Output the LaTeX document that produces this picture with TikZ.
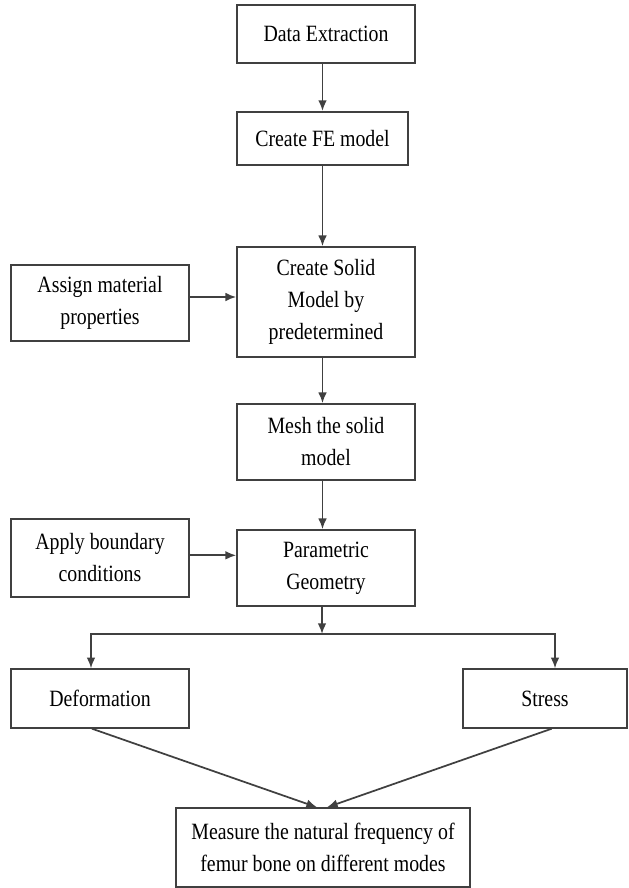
\documentclass[tikz,border=0pt]{standalone}
\usepackage{fontspec}
\setmainfont{Liberation Serif}[FakeStretch=0.85]
\usetikzlibrary{arrows, arrows.meta, calc, positioning}

\begin{document}
\begin{tikzpicture}[x=0.75pt, y=-0.75pt, >={Latex[length=8pt, width=6.5pt]},
    box/.style={draw=black!75, line width=1.3pt, align=center, inner sep=2pt, font=\fontsize{17.5}{24}\selectfont},
    flow/.style={->, draw=black!75, line width=1.3pt}]

    \useasboundingbox (0,0) rectangle (628,888);

    \node[box, minimum width=133.5pt, minimum height=43.5pt] (extract) at (326,34) {Data Extraction};
    \node[box, minimum width=128pt, minimum height=40pt] (femodel) at (322.5,138.5) {Create FE model};
    \node[box, minimum width=133.5pt, minimum height=82.5pt] (solid) at (326,302) {Create Solid\\Model by\\predetermined};
    \node[box, minimum width=133.5pt, minimum height=57pt] (assign) at (100,303) {Assign material\\properties};
    \node[box, minimum width=133.5pt, minimum height=57pt] (mesh) at (326,442) {Mesh the solid\\model};
    \node[box, minimum width=133.5pt, minimum height=57pt] (param) at (326,568) {Parametric\\Geometry};
    \node[box, minimum width=133.5pt, minimum height=58.5pt] (apply) at (100,558) {Apply boundary\\conditions};
    \node[box, minimum width=133.5pt, minimum height=44pt] (deform) at (100,698.5) {Deformation};
    \node[box, minimum width=123pt, minimum height=44pt] (stress) at (545,698.5) {Stress};
    \node[box, minimum width=220.5pt, minimum height=59pt] (measure) at (323,847.5) {Measure the natural frequency of\\femur bone on different modes};

    \coordinate (split) at (322,634);

    \draw[flow] ([xshift=-3pt] extract.south) -- (femodel.south |- extract.south) -- (femodel.north);
    \draw[flow] (femodel.south) -- (femodel.south |- solid.north);
    \draw[flow] (femodel.south |- solid.south) -- (femodel.south |- mesh.north);
    \draw[flow] (femodel.south |- mesh.south) -- (femodel.south |- param.north);
    \draw[flow] ([yshift=4.5pt] assign.east) -- ([yshift=4.5pt] assign.east -| solid.west);
    \draw[flow] ([yshift=2pt] apply.east) -- ([yshift=2pt] apply.east -| param.west);

    \draw[flow] (split |- param.south) -- (split);
    \draw[flow] (split) -| ([xshift=-6.75pt] deform.north);
    \draw[flow] (split) -| ([xshift=7.5pt] stress.north);

    \draw[flow] ([xshift=-6pt] deform.south) -- ([xshift=-4.5pt] measure.north);
    \draw[flow] ([xshift=5pt] stress.south) -- ([xshift=3pt] measure.north);

\end{tikzpicture}
\end{document}
